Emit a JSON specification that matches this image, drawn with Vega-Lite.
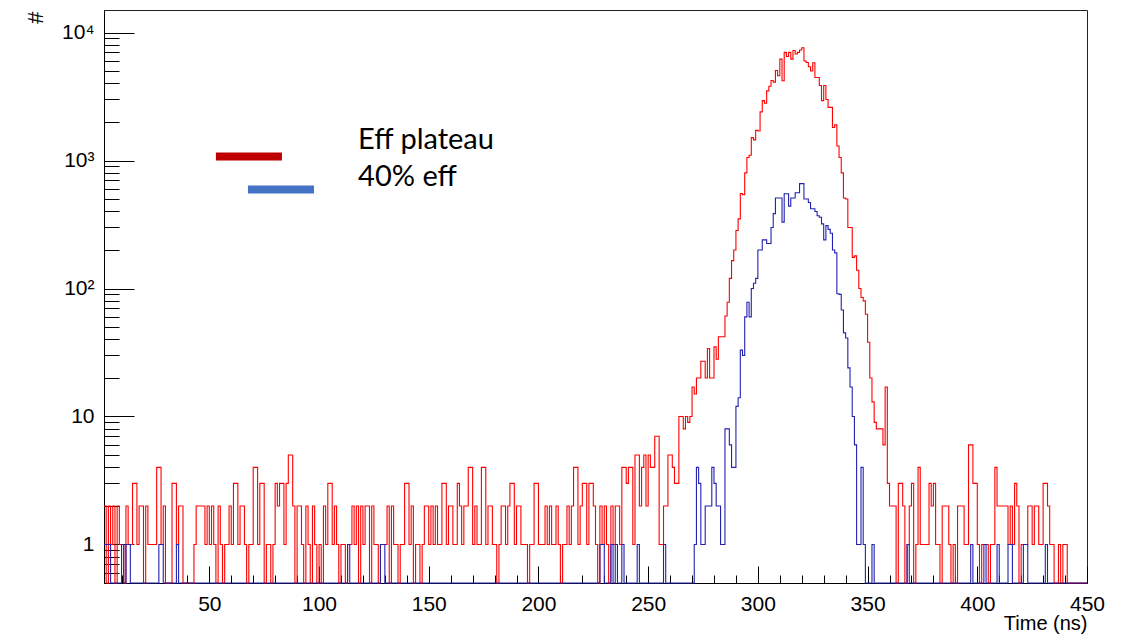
{
"$schema": "https://vega.github.io/schema/vega-lite/v6.json",
"width": 983,
"height": 573,
"autosize": {"type": "none"},
"padding": {"left": 104, "top": 10, "right": 40, "bottom": 52},
"background": "white",
"config": {
  "view": {"stroke": "#222", "strokeWidth": 1},
  "axis": {"labelFont": "Liberation Sans", "titleFont": "Liberation Sans", "labelFontSize": 21, "titleFontSize": 20, "labelColor": "#000", "titleColor": "#000", "tickColor": "#000", "domainColor": "#000", "grid": false, "titleFontWeight": "normal", "tickWidth": 1, "domainWidth": 1}
},
"data": {"values": [
{"t":2,"r":2,"b":1},{"t":3,"r":0,"b":1},{"t":4,"r":2,"b":1},{"t":5,"r":1,"b":0},{"t":6,"r":2,"b":0},{"t":7,"r":0,"b":0},{"t":8,"r":2,"b":0},{"t":9,"r":1,"b":0},{"t":10,"r":1,"b":1},{"t":11,"r":0,"b":0},
{"t":12,"r":2,"b":1},{"t":13,"r":1,"b":1},{"t":14,"r":1,"b":0},{"t":15,"r":3,"b":0},{"t":16,"r":3,"b":0},{"t":17,"r":1,"b":0},{"t":18,"r":2,"b":0},{"t":19,"r":2,"b":0},{"t":20,"r":0,"b":0},{"t":21,"r":2,"b":0},
{"t":22,"r":1,"b":0},{"t":23,"r":1,"b":0},{"t":24,"r":1,"b":0},{"t":25,"r":1,"b":0},{"t":26,"r":4,"b":0},{"t":27,"r":4,"b":1},{"t":28,"r":1,"b":1},{"t":29,"r":2,"b":0},{"t":30,"r":0,"b":0},{"t":31,"r":0,"b":0},
{"t":32,"r":0,"b":0},{"t":33,"r":3,"b":0},{"t":34,"r":3,"b":0},{"t":35,"r":1,"b":1},{"t":36,"r":2,"b":0},{"t":37,"r":2,"b":0},{"t":38,"r":0,"b":0},{"t":39,"r":0,"b":0},{"t":40,"r":0,"b":0},{"t":41,"r":0,"b":0},
{"t":42,"r":0,"b":0},{"t":43,"r":1,"b":0},{"t":44,"r":2,"b":0},{"t":45,"r":2,"b":0},{"t":46,"r":2,"b":0},{"t":47,"r":2,"b":0},{"t":48,"r":1,"b":0},{"t":49,"r":2,"b":0},{"t":50,"r":1,"b":0},{"t":51,"r":2,"b":0},
{"t":52,"r":1,"b":0},{"t":53,"r":0,"b":0},{"t":54,"r":2,"b":0},{"t":55,"r":1,"b":0},{"t":56,"r":0,"b":0},{"t":57,"r":1,"b":0},{"t":58,"r":1,"b":0},{"t":59,"r":2,"b":0},{"t":60,"r":1,"b":0},{"t":61,"r":3,"b":0},
{"t":62,"r":3,"b":0},{"t":63,"r":1,"b":0},{"t":64,"r":2,"b":0},{"t":65,"r":2,"b":0},{"t":66,"r":1,"b":0},{"t":67,"r":0,"b":0},{"t":68,"r":1,"b":0},{"t":69,"r":1,"b":0},{"t":70,"r":4,"b":0},{"t":71,"r":4,"b":0},
{"t":72,"r":1,"b":0},{"t":73,"r":3,"b":0},{"t":74,"r":3,"b":0},{"t":75,"r":0,"b":0},{"t":76,"r":1,"b":0},{"t":77,"r":1,"b":0},{"t":78,"r":0,"b":0},{"t":79,"r":1,"b":0},{"t":80,"r":3,"b":0},{"t":81,"r":2,"b":0},
{"t":82,"r":3,"b":0},{"t":83,"r":3,"b":0},{"t":84,"r":1,"b":0},{"t":85,"r":3,"b":0},{"t":86,"r":5,"b":0},{"t":87,"r":5,"b":0},{"t":88,"r":2,"b":0},{"t":89,"r":0,"b":0},{"t":90,"r":2,"b":0},{"t":91,"r":2,"b":0},
{"t":92,"r":1,"b":0},{"t":93,"r":0,"b":0},{"t":94,"r":2,"b":0},{"t":95,"r":1,"b":0},{"t":96,"r":0,"b":0},{"t":97,"r":2,"b":0},{"t":98,"r":1,"b":0},{"t":99,"r":0,"b":0},{"t":100,"r":1,"b":0},{"t":101,"r":0,"b":0},
{"t":102,"r":2,"b":0},{"t":103,"r":1,"b":0},{"t":104,"r":3,"b":0},{"t":105,"r":3,"b":0},{"t":106,"r":1,"b":0},{"t":107,"r":2,"b":0},{"t":108,"r":1,"b":0},{"t":109,"r":0,"b":0},{"t":110,"r":1,"b":0},{"t":111,"r":1,"b":0},
{"t":112,"r":0,"b":0},{"t":113,"r":1,"b":1},{"t":114,"r":1,"b":0},{"t":115,"r":2,"b":0},{"t":116,"r":1,"b":0},{"t":117,"r":2,"b":0},{"t":118,"r":0,"b":0},{"t":119,"r":2,"b":0},{"t":120,"r":1,"b":0},{"t":121,"r":2,"b":0},
{"t":122,"r":2,"b":0},{"t":123,"r":0,"b":0},{"t":124,"r":2,"b":0},{"t":125,"r":1,"b":0},{"t":126,"r":1,"b":0},{"t":127,"r":0,"b":0},{"t":128,"r":1,"b":1},{"t":129,"r":1,"b":1},{"t":130,"r":1,"b":0},{"t":131,"r":2,"b":0},
{"t":132,"r":0,"b":0},{"t":133,"r":2,"b":0},{"t":134,"r":1,"b":0},{"t":135,"r":1,"b":0},{"t":136,"r":0,"b":0},{"t":137,"r":1,"b":0},{"t":138,"r":1,"b":0},{"t":139,"r":3,"b":0},{"t":140,"r":3,"b":0},{"t":141,"r":1,"b":0},
{"t":142,"r":2,"b":0},{"t":143,"r":0,"b":0},{"t":144,"r":1,"b":0},{"t":145,"r":1,"b":0},{"t":146,"r":0,"b":0},{"t":147,"r":1,"b":0},{"t":148,"r":2,"b":0},{"t":149,"r":2,"b":0},{"t":150,"r":1,"b":0},{"t":151,"r":2,"b":0},
{"t":152,"r":1,"b":0},{"t":153,"r":2,"b":0},{"t":154,"r":1,"b":0},{"t":155,"r":1,"b":0},{"t":156,"r":3,"b":0},{"t":157,"r":3,"b":0},{"t":158,"r":1,"b":0},{"t":159,"r":2,"b":0},{"t":160,"r":2,"b":0},{"t":161,"r":1,"b":0},
{"t":162,"r":1,"b":0},{"t":163,"r":3,"b":0},{"t":164,"r":2,"b":0},{"t":165,"r":1,"b":0},{"t":166,"r":2,"b":0},{"t":167,"r":2,"b":0},{"t":168,"r":4,"b":0},{"t":169,"r":4,"b":0},{"t":170,"r":1,"b":0},{"t":171,"r":2,"b":0},
{"t":172,"r":1,"b":0},{"t":173,"r":1,"b":0},{"t":174,"r":4,"b":0},{"t":175,"r":4,"b":0},{"t":176,"r":1,"b":0},{"t":177,"r":2,"b":0},{"t":178,"r":2,"b":0},{"t":179,"r":1,"b":0},{"t":180,"r":1,"b":0},{"t":181,"r":0,"b":0},
{"t":182,"r":1,"b":0},{"t":183,"r":2,"b":0},{"t":184,"r":2,"b":0},{"t":185,"r":1,"b":0},{"t":186,"r":2,"b":0},{"t":187,"r":3,"b":0},{"t":188,"r":3,"b":0},{"t":189,"r":1,"b":0},{"t":190,"r":2,"b":0},{"t":191,"r":2,"b":0},
{"t":192,"r":1,"b":0},{"t":193,"r":1,"b":0},{"t":194,"r":1,"b":0},{"t":195,"r":0,"b":0},{"t":196,"r":1,"b":0},{"t":197,"r":1,"b":0},{"t":198,"r":3,"b":0},{"t":199,"r":3,"b":0},{"t":200,"r":1,"b":0},{"t":201,"r":1,"b":0},
{"t":202,"r":1,"b":0},{"t":203,"r":2,"b":0},{"t":204,"r":1,"b":0},{"t":205,"r":2,"b":0},{"t":206,"r":1,"b":0},{"t":207,"r":1,"b":0},{"t":208,"r":2,"b":0},{"t":209,"r":1,"b":0},{"t":210,"r":0,"b":0},{"t":211,"r":1,"b":0},
{"t":212,"r":1,"b":0},{"t":213,"r":2,"b":0},{"t":214,"r":1,"b":0},{"t":215,"r":2,"b":0},{"t":216,"r":4,"b":0},{"t":217,"r":4,"b":0},{"t":218,"r":1,"b":0},{"t":219,"r":2,"b":0},{"t":220,"r":3,"b":0},{"t":221,"r":3,"b":0},
{"t":222,"r":1,"b":0},{"t":223,"r":3,"b":0},{"t":224,"r":3,"b":0},{"t":225,"r":2,"b":0},{"t":226,"r":1,"b":0},{"t":227,"r":0,"b":0},{"t":228,"r":2,"b":1},{"t":229,"r":1,"b":1},{"t":230,"r":2,"b":0},{"t":231,"r":1,"b":0},
{"t":232,"r":0,"b":0},{"t":233,"r":2,"b":1},{"t":234,"r":1,"b":0},{"t":235,"r":2,"b":1},{"t":236,"r":2,"b":0},{"t":237,"r":1,"b":0},{"t":238,"r":4,"b":1},{"t":239,"r":4,"b":0},{"t":240,"r":3,"b":0},{"t":241,"r":4,"b":0},
{"t":242,"r":4,"b":0},{"t":243,"r":1,"b":0},{"t":244,"r":5,"b":0},{"t":245,"r":5,"b":1},{"t":246,"r":2,"b":0},{"t":247,"r":4,"b":0},{"t":248,"r":5,"b":0},{"t":249,"r":2,"b":0},{"t":250,"r":5,"b":0},{"t":251,"r":4,"b":0},
{"t":252,"r":4,"b":0},{"t":253,"r":7,"b":0},{"t":254,"r":7,"b":0},{"t":255,"r":1,"b":0},{"t":256,"r":1,"b":0},{"t":257,"r":2,"b":1},{"t":258,"r":2,"b":0},{"t":259,"r":5,"b":0},{"t":260,"r":5,"b":0},{"t":261,"r":4,"b":0},
{"t":262,"r":3,"b":0},{"t":263,"r":3,"b":0},{"t":264,"r":10,"b":0},{"t":265,"r":10,"b":0},{"t":266,"r":8,"b":0},{"t":267,"r":10,"b":0},{"t":268,"r":9,"b":0},{"t":269,"r":10,"b":0},{"t":270,"r":17,"b":0},{"t":271,"r":15,"b":1},
{"t":272,"r":20,"b":4},{"t":273,"r":20,"b":3},{"t":274,"r":27,"b":1},{"t":275,"r":27,"b":1},{"t":276,"r":20,"b":2},{"t":277,"r":34,"b":2},{"t":278,"r":20,"b":2},{"t":279,"r":20,"b":4},{"t":280,"r":35,"b":3},{"t":281,"r":28,"b":2},
{"t":282,"r":42,"b":2},{"t":283,"r":42,"b":1},{"t":284,"r":42,"b":1},{"t":285,"r":61,"b":8},{"t":286,"r":78,"b":8},{"t":287,"r":120,"b":6},{"t":288,"r":165,"b":4},{"t":289,"r":200,"b":4},{"t":290,"r":284,"b":12},{"t":291,"r":350,"b":14},
{"t":292,"r":552,"b":33},{"t":293,"r":540,"b":30},{"t":294,"r":800,"b":60},{"t":295,"r":1055,"b":78},{"t":296,"r":1100,"b":60},{"t":297,"r":1510,"b":100},{"t":298,"r":1450,"b":110},{"t":299,"r":1720,"b":120},{"t":300,"r":1700,"b":200},{"t":301,"r":2400,"b":200},
{"t":302,"r":2940,"b":240},{"t":303,"r":2800,"b":240},{"t":304,"r":3500,"b":225},{"t":305,"r":3800,"b":225},{"t":306,"r":4220,"b":300},{"t":307,"r":4100,"b":385},{"t":308,"r":5050,"b":510},{"t":309,"r":4600,"b":510},{"t":310,"r":6200,"b":510},{"t":311,"r":4200,"b":330},
{"t":312,"r":7000,"b":550},{"t":313,"r":6500,"b":550},{"t":314,"r":7000,"b":440},{"t":315,"r":6200,"b":510},{"t":316,"r":7230,"b":510},{"t":317,"r":6800,"b":560},{"t":318,"r":7000,"b":560},{"t":319,"r":7300,"b":660},{"t":320,"r":7600,"b":660},{"t":321,"r":6000,"b":500},
{"t":322,"r":5830,"b":500},{"t":323,"r":5400,"b":470},{"t":324,"r":5000,"b":420},{"t":325,"r":5800,"b":420},{"t":326,"r":4450,"b":400},{"t":327,"r":4450,"b":370},{"t":328,"r":3860,"b":360},{"t":329,"r":2940,"b":320},{"t":330,"r":3860,"b":240},{"t":331,"r":3000,"b":310},
{"t":332,"r":2600,"b":290},{"t":333,"r":2600,"b":270},{"t":334,"r":1810,"b":200},{"t":335,"r":1900,"b":190},{"t":336,"r":1300,"b":91},{"t":337,"r":1055,"b":90},{"t":338,"r":800,"b":68},{"t":339,"r":510,"b":45},{"t":340,"r":500,"b":41},{"t":341,"r":300,"b":24},
{"t":342,"r":300,"b":17},{"t":343,"r":175,"b":10},{"t":344,"r":180,"b":6},{"t":345,"r":139,"b":1},{"t":346,"r":100,"b":1},{"t":347,"r":85,"b":4},{"t":348,"r":80,"b":1},{"t":349,"r":63,"b":0},{"t":350,"r":38,"b":0},{"t":351,"r":20,"b":0},
{"t":352,"r":13,"b":1},{"t":353,"r":9,"b":0},{"t":354,"r":8,"b":0},{"t":355,"r":8,"b":0},{"t":356,"r":8,"b":0},{"t":357,"r":6,"b":0},{"t":358,"r":17,"b":0},{"t":359,"r":3,"b":0},{"t":360,"r":2,"b":0},{"t":361,"r":2,"b":0},
{"t":362,"r":2,"b":0},{"t":363,"r":0,"b":0},{"t":364,"r":3,"b":0},{"t":365,"r":3,"b":0},{"t":366,"r":2,"b":0},{"t":367,"r":0,"b":0},{"t":368,"r":1,"b":1},{"t":369,"r":2,"b":0},{"t":370,"r":3,"b":0},{"t":371,"r":0,"b":0},
{"t":372,"r":1,"b":0},{"t":373,"r":4,"b":0},{"t":374,"r":1,"b":0},{"t":375,"r":1,"b":0},{"t":376,"r":1,"b":0},{"t":377,"r":1,"b":0},{"t":378,"r":3,"b":0},{"t":379,"r":2,"b":0},{"t":380,"r":3,"b":0},{"t":381,"r":1,"b":0},
{"t":382,"r":1,"b":0},{"t":383,"r":0,"b":0},{"t":384,"r":2,"b":0},{"t":385,"r":2,"b":0},{"t":386,"r":2,"b":0},{"t":387,"r":1,"b":0},{"t":388,"r":0,"b":0},{"t":389,"r":1,"b":0},{"t":390,"r":0,"b":0},{"t":391,"r":2,"b":0},
{"t":392,"r":2,"b":0},{"t":393,"r":2,"b":0},{"t":394,"r":1,"b":0},{"t":395,"r":1,"b":0},{"t":396,"r":6,"b":0},{"t":397,"r":6,"b":1},{"t":398,"r":3,"b":0},{"t":399,"r":3,"b":0},{"t":400,"r":1,"b":0},{"t":401,"r":0,"b":0},
{"t":402,"r":1,"b":0},{"t":403,"r":1,"b":1},{"t":404,"r":1,"b":0},{"t":405,"r":0,"b":0},{"t":406,"r":1,"b":0},{"t":407,"r":1,"b":0},{"t":408,"r":4,"b":0},{"t":409,"r":2,"b":1},{"t":410,"r":2,"b":0},{"t":411,"r":2,"b":0},
{"t":412,"r":2,"b":0},{"t":413,"r":2,"b":0},{"t":414,"r":1,"b":1},{"t":415,"r":2,"b":1},{"t":416,"r":1,"b":0},{"t":417,"r":3,"b":0},{"t":418,"r":2,"b":0},{"t":419,"r":0,"b":0},{"t":420,"r":1,"b":0},{"t":421,"r":1,"b":1},
{"t":422,"r":1,"b":1},{"t":423,"r":2,"b":0},{"t":424,"r":2,"b":0},{"t":425,"r":1,"b":0},{"t":426,"r":2,"b":0},{"t":427,"r":2,"b":0},{"t":428,"r":1,"b":0},{"t":429,"r":1,"b":0},{"t":430,"r":3,"b":0},{"t":431,"r":3,"b":1},
{"t":432,"r":2,"b":0},{"t":433,"r":1,"b":0},{"t":434,"r":1,"b":0},{"t":435,"r":0,"b":0},{"t":436,"r":0,"b":0},{"t":437,"r":1,"b":0},{"t":438,"r":0,"b":0},{"t":439,"r":1,"b":0},{"t":440,"r":1,"b":0},{"t":441,"r":0,"b":0},
{"t":442,"r":0,"b":0},{"t":443,"r":0,"b":0},{"t":444,"r":0,"b":0},{"t":445,"r":0,"b":0},{"t":446,"r":0,"b":0},{"t":447,"r":0,"b":0},{"t":448,"r":0,"b":0},{"t":449,"r":0,"b":0},{"t":450,"r":0,"b":0}
]},
"layer": [
  {
    "mark": {"type": "line", "interpolate": "step-after", "color": "#ff0000", "strokeWidth": 1.1, "invalid": "show"},
    "encoding": {
      "x": {"field": "t", "type": "quantitative",
        "scale": {"domain": [2, 450], "nice": false, "zero": false},
        "axis": {"orient": "bottom", "values": [50,100,150,200,250,300,350,400,450], "tickSize": -17, "labelPadding": 27, "labelFlush": false, "labelOverlap": false, "labelBound": false,
                 "title": "Time (ns)", "titleAnchor": "end", "titleAlign": "right", "titleX": 983, "titleY": 40, "titleBaseline": "middle"}},
      "y": {"field": "r", "type": "quantitative",
        "scale": {"type": "log", "domain": [0.5, 15000], "nice": false, "clamp": true},
        "axis": {"orient": "left", "values": [1,10,100,1000,10000], "tickSize": -30, "labelPadding": 40, "labelOverlap": false,
                 "labelExpr": "datum.value == 10000 ? '10⁴' : datum.value == 1000 ? '10³' : datum.value == 100 ? '10²' : datum.value == 10 ? '10' : '1'",
                 "title": "#", "titleFontSize": 22, "titleAngle": 270, "titleX": -69, "titleY": 7, "titleAlign": "center", "titleBaseline": "middle"}}
    }
  },
  {
    "mark": {"type": "line", "interpolate": "step-after", "color": "#2222b0", "strokeWidth": 1.1, "invalid": "show"},
    "encoding": {
      "x": {"field": "t", "type": "quantitative",
        "scale": {"domain": [2, 450], "nice": false, "zero": false},
        "axis": {"orient": "bottom", "values": [10,20,30,40,60,70,80,90,110,120,130,140,160,170,180,190,210,220,230,240,260,270,280,290,310,320,330,340,360,370,380,390,410,420,430,440], "tickSize": -8, "labels": false, "domain": false, "title": null}},
      "y": {"field": "b", "type": "quantitative",
        "scale": {"type": "log", "domain": [0.5, 15000], "nice": false, "clamp": true},
        "axis": {"orient": "left", "values": [0.6,0.7,0.8,0.9,2,3,4,5,6,7,8,9,20,30,40,50,60,70,80,90,200,300,400,500,600,700,800,900,2000,3000,4000,5000,6000,7000,8000,9000], "tickSize": -15, "labels": false, "domain": false, "title": null}}
    }
  },
  {
    "data": {"values": [{"x1": 53.0, "x2": 83.1, "y": 1074, "c": "Eff plateau"}, {"x1": 67.6, "x2": 97.7, "y": 593, "c": "40% eff"}]},
    "mark": {"type": "rule", "strokeWidth": 8, "strokeCap": "butt"},
    "encoding": {
      "x": {"field": "x1", "type": "quantitative", "scale": {"domain": [2, 450], "nice": false, "zero": false}, "axis": null},
      "x2": {"field": "x2"},
      "y": {"field": "y", "type": "quantitative", "scale": {"type": "log", "domain": [0.5, 15000], "nice": false, "clamp": true}, "axis": null},
      "color": {"field": "c", "type": "nominal", "scale": {"domain": ["Eff plateau", "40% eff"], "range": ["#c00000", "#4472c4"]}, "legend": null}
    }
  },
  {
    "data": {"values": [{"x": 117.8, "y": 1241, "s": "Eff plateau"}, {"x": 117.8, "y": 638, "s": "40% eff"}]},
    "mark": {"type": "text", "align": "left", "baseline": "alphabetic", "font": "Lato", "fontSize": 29, "color": "#000"},
    "encoding": {
      "x": {"field": "x", "type": "quantitative", "scale": {"domain": [2, 450], "nice": false, "zero": false}, "axis": null},
      "y": {"field": "y", "type": "quantitative", "scale": {"type": "log", "domain": [0.5, 15000], "nice": false, "clamp": true}, "axis": null},
      "text": {"field": "s"}
    }
  }
],
"resolve": {"axis": {"x": "independent", "y": "independent"}}
}
